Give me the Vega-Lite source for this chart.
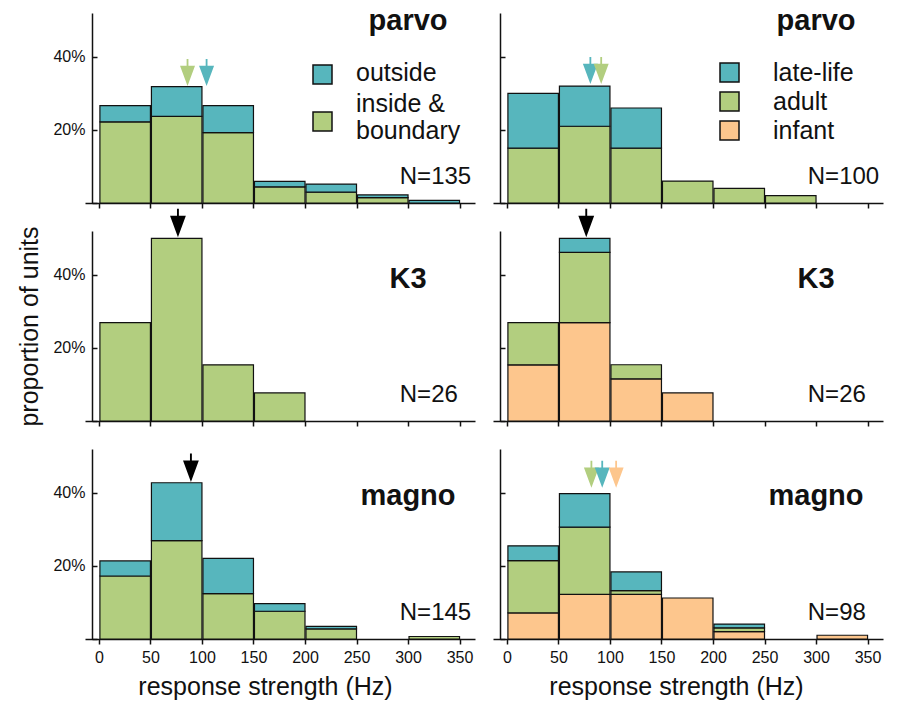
{
  "$schema": "https://vega.github.io/schema/vega-lite/v6.json",
  "padding": {"left": 17, "top": 6, "right": 5, "bottom": 4},
  "config": {
    "font": "Liberation Sans",
    "view": {"stroke": null},
    "axis": {"domainColor": "#111", "domainWidth": 1.5, "tickColor": "#111", "tickWidth": 1.5, "labelColor": "#111", "titleColor": "#111", "titleFontWeight": "normal", "grid": false},
    "text": {"color": "#111"}
  },
  "datasets": {
    "groups": [
      {"group": "inside & boundary", "rank": 1},
      {"group": "outside", "rank": 2},
      {"group": "infant", "rank": 1},
      {"group": "adult", "rank": 2},
      {"group": "late-life", "rank": 3}
    ],
    "bars": [
      {"pathway": "parvo", "split": "location", "start": 0, "end": 50, "group": "inside & boundary", "p": 0.2222},
      {"pathway": "parvo", "split": "location", "start": 0, "end": 50, "group": "outside", "p": 0.0444},
      {"pathway": "parvo", "split": "location", "start": 50, "end": 100, "group": "inside & boundary", "p": 0.2370},
      {"pathway": "parvo", "split": "location", "start": 50, "end": 100, "group": "outside", "p": 0.0815},
      {"pathway": "parvo", "split": "location", "start": 100, "end": 150, "group": "inside & boundary", "p": 0.1926},
      {"pathway": "parvo", "split": "location", "start": 100, "end": 150, "group": "outside", "p": 0.0741},
      {"pathway": "parvo", "split": "location", "start": 150, "end": 200, "group": "inside & boundary", "p": 0.0444},
      {"pathway": "parvo", "split": "location", "start": 150, "end": 200, "group": "outside", "p": 0.0148},
      {"pathway": "parvo", "split": "location", "start": 200, "end": 250, "group": "inside & boundary", "p": 0.0296},
      {"pathway": "parvo", "split": "location", "start": 200, "end": 250, "group": "outside", "p": 0.0222},
      {"pathway": "parvo", "split": "location", "start": 250, "end": 300, "group": "inside & boundary", "p": 0.0148},
      {"pathway": "parvo", "split": "location", "start": 250, "end": 300, "group": "outside", "p": 0.0074},
      {"pathway": "parvo", "split": "location", "start": 300, "end": 350, "group": "outside", "p": 0.0074},

      {"pathway": "parvo", "split": "age", "start": 0, "end": 50, "group": "adult", "p": 0.15},
      {"pathway": "parvo", "split": "age", "start": 0, "end": 50, "group": "late-life", "p": 0.15},
      {"pathway": "parvo", "split": "age", "start": 50, "end": 100, "group": "adult", "p": 0.21},
      {"pathway": "parvo", "split": "age", "start": 50, "end": 100, "group": "late-life", "p": 0.11},
      {"pathway": "parvo", "split": "age", "start": 100, "end": 150, "group": "adult", "p": 0.15},
      {"pathway": "parvo", "split": "age", "start": 100, "end": 150, "group": "late-life", "p": 0.11},
      {"pathway": "parvo", "split": "age", "start": 150, "end": 200, "group": "adult", "p": 0.06},
      {"pathway": "parvo", "split": "age", "start": 200, "end": 250, "group": "adult", "p": 0.04},
      {"pathway": "parvo", "split": "age", "start": 250, "end": 300, "group": "adult", "p": 0.02},

      {"pathway": "K3", "split": "location", "start": 0, "end": 50, "group": "inside & boundary", "p": 0.2692},
      {"pathway": "K3", "split": "location", "start": 50, "end": 100, "group": "inside & boundary", "p": 0.5},
      {"pathway": "K3", "split": "location", "start": 100, "end": 150, "group": "inside & boundary", "p": 0.1538},
      {"pathway": "K3", "split": "location", "start": 150, "end": 200, "group": "inside & boundary", "p": 0.0769},

      {"pathway": "K3", "split": "age", "start": 0, "end": 50, "group": "infant", "p": 0.1538},
      {"pathway": "K3", "split": "age", "start": 0, "end": 50, "group": "adult", "p": 0.1154},
      {"pathway": "K3", "split": "age", "start": 50, "end": 100, "group": "infant", "p": 0.2692},
      {"pathway": "K3", "split": "age", "start": 50, "end": 100, "group": "adult", "p": 0.1923},
      {"pathway": "K3", "split": "age", "start": 50, "end": 100, "group": "late-life", "p": 0.0385},
      {"pathway": "K3", "split": "age", "start": 100, "end": 150, "group": "infant", "p": 0.1154},
      {"pathway": "K3", "split": "age", "start": 100, "end": 150, "group": "adult", "p": 0.0385},
      {"pathway": "K3", "split": "age", "start": 150, "end": 200, "group": "infant", "p": 0.0769},

      {"pathway": "magno", "split": "location", "start": 0, "end": 50, "group": "inside & boundary", "p": 0.1724},
      {"pathway": "magno", "split": "location", "start": 0, "end": 50, "group": "outside", "p": 0.0414},
      {"pathway": "magno", "split": "location", "start": 50, "end": 100, "group": "inside & boundary", "p": 0.2690},
      {"pathway": "magno", "split": "location", "start": 50, "end": 100, "group": "outside", "p": 0.1586},
      {"pathway": "magno", "split": "location", "start": 100, "end": 150, "group": "inside & boundary", "p": 0.1241},
      {"pathway": "magno", "split": "location", "start": 100, "end": 150, "group": "outside", "p": 0.0966},
      {"pathway": "magno", "split": "location", "start": 150, "end": 200, "group": "inside & boundary", "p": 0.0759},
      {"pathway": "magno", "split": "location", "start": 150, "end": 200, "group": "outside", "p": 0.0207},
      {"pathway": "magno", "split": "location", "start": 200, "end": 250, "group": "inside & boundary", "p": 0.0276},
      {"pathway": "magno", "split": "location", "start": 200, "end": 250, "group": "outside", "p": 0.0069},
      {"pathway": "magno", "split": "location", "start": 300, "end": 350, "group": "inside & boundary", "p": 0.0069},

      {"pathway": "magno", "split": "age", "start": 0, "end": 50, "group": "infant", "p": 0.0714},
      {"pathway": "magno", "split": "age", "start": 0, "end": 50, "group": "adult", "p": 0.1429},
      {"pathway": "magno", "split": "age", "start": 0, "end": 50, "group": "late-life", "p": 0.0408},
      {"pathway": "magno", "split": "age", "start": 50, "end": 100, "group": "infant", "p": 0.1224},
      {"pathway": "magno", "split": "age", "start": 50, "end": 100, "group": "adult", "p": 0.1837},
      {"pathway": "magno", "split": "age", "start": 50, "end": 100, "group": "late-life", "p": 0.0918},
      {"pathway": "magno", "split": "age", "start": 100, "end": 150, "group": "infant", "p": 0.1224},
      {"pathway": "magno", "split": "age", "start": 100, "end": 150, "group": "adult", "p": 0.0102},
      {"pathway": "magno", "split": "age", "start": 100, "end": 150, "group": "late-life", "p": 0.0510},
      {"pathway": "magno", "split": "age", "start": 150, "end": 200, "group": "infant", "p": 0.1122},
      {"pathway": "magno", "split": "age", "start": 200, "end": 250, "group": "infant", "p": 0.0204},
      {"pathway": "magno", "split": "age", "start": 200, "end": 250, "group": "adult", "p": 0.0102},
      {"pathway": "magno", "split": "age", "start": 200, "end": 250, "group": "late-life", "p": 0.0102},
      {"pathway": "magno", "split": "age", "start": 300, "end": 350, "group": "infant", "p": 0.0102}
    ],
    "medians": [
      {"pathway": "parvo", "split": "location", "group": "inside & boundary", "median": 86},
      {"pathway": "parvo", "split": "location", "group": "outside", "median": 104.5},
      {"pathway": "parvo", "split": "age", "group": "late-life", "median": 81},
      {"pathway": "parvo", "split": "age", "group": "adult", "median": 91.5},
      {"pathway": "K3", "split": "location", "group": "all units", "median": 76.7},
      {"pathway": "K3", "split": "age", "group": "all units", "median": 77},
      {"pathway": "magno", "split": "location", "group": "all units", "median": 89.3},
      {"pathway": "magno", "split": "age", "group": "adult", "median": 82},
      {"pathway": "magno", "split": "age", "group": "late-life", "median": 92.5},
      {"pathway": "magno", "split": "age", "group": "infant", "median": 106}
    ]
  },
  "concat": [
    {
      "width": 390, "height": 190,
      "layer": [
        {
          "data": {"name": "bars"},
          "transform": [
            {"filter": "datum.pathway == 'parvo' && datum.split == 'location'"},
            {"lookup": "group", "from": {"data": {"name": "groups"}, "key": "group", "fields": ["rank"]}}
          ],
          "mark": {"type": "bar", "stroke": "#111", "strokeWidth": 1.2},
          "encoding": {
            "x": {"field": "start", "type": "quantitative", "bin": {"binned": true, "step": 50}, "scale": {"domain": [-13.5, 365], "nice": false, "zero": false},
                  "axis": {"values": [0, 50, 100, 150, 200, 250, 300, 350], "labels": false, "tickSize": 5, "title": null}},
            "x2": {"field": "end"},
            "y": {"field": "p", "type": "quantitative", "stack": "zero", "scale": {"domain": [0, 0.52], "nice": false},
                  "axis": {"values": [0, 0.1, 0.2, 0.3, 0.4, 0.5], "offset": -7, "tickSize": -5, "labelFontSize": 16, "labelPadding": 12,
                           "labelExpr": "datum.value == 0.2 || datum.value == 0.4 ? format(datum.value, '.0%') : ''", "title": null}},
            "order": {"field": "rank", "type": "quantitative", "sort": "ascending"},
            "color": {"field": "group", "type": "nominal",
                      "scale": {"domain": ["outside", "inside & boundary"], "range": ["#57b6bd", "#b2ce7f"]},
                      "legend": {"orient": "none", "legendX": 225, "legendY": 49, "title": null, "padding": 0,
                                 "symbolType": "square", "symbolSize": 361, "symbolStrokeColor": "#111", "symbolStrokeWidth": 1.5, "symbolOpacity": 1,
                                 "labelFontSize": 25, "labelColor": "#111", "labelOffset": 21, "labelLimit": 300, "rowPadding": 4,
                                 "labelExpr": "datum.label == 'inside & boundary' ? ['inside &', '\u00a0boundary'] : datum.label",
                                 "encode": {"labels": {"update": {"dy": {"signal": "datum.value == 'inside & boundary' ? -18 : -2"}}}}}}
          }
        },
        {
          "data": {"name": "medians"},
          "transform": [{"filter": "datum.pathway == 'parvo' && datum.split == 'location'"}],
          "mark": {"type": "point", "shape": "M0,0L-0.5,-1.35L-0.06,-1.35L-0.06,-1.8L0.06,-1.8L0.06,-1.35L0.5,-1.35Z", "size": 900, "filled": true, "opacity": 1, "strokeWidth": 0},
          "encoding": {
            "x": {"field": "median", "type": "quantitative"},
            "y": {"datum": 0.32},
            "color": {"field": "group", "type": "nominal", "scale": {"domain": ["outside", "inside & boundary"], "range": ["#57b6bd", "#b2ce7f"]}, "legend": null}
          }
        },
        {
          "data": {"values": [{}]},
          "mark": {"type": "text", "text": "parvo", "fontSize": 29, "fontWeight": "bold", "align": "center", "baseline": "alphabetic"},
          "encoding": {"x": {"datum": 300}, "y": {"datum": 0.474}}
        },
        {
          "data": {"values": [{}]},
          "mark": {"type": "text", "text": "N=135", "fontSize": 24, "align": "left", "baseline": "alphabetic"},
          "encoding": {"x": {"datum": 292}, "y": {"datum": 0.052}}
        }
      ]
    },
    {
      "width": 390, "height": 190,
      "layer": [
        {
          "data": {"name": "bars"},
          "transform": [
            {"filter": "datum.pathway == 'parvo' && datum.split == 'age'"},
            {"lookup": "group", "from": {"data": {"name": "groups"}, "key": "group", "fields": ["rank"]}}
          ],
          "mark": {"type": "bar", "stroke": "#111", "strokeWidth": 1.2},
          "encoding": {
            "x": {"field": "start", "type": "quantitative", "bin": {"binned": true, "step": 50}, "scale": {"domain": [-13.5, 365], "nice": false, "zero": false},
                  "axis": {"values": [0, 50, 100, 150, 200, 250, 300, 350], "labels": false, "tickSize": 5, "title": null}},
            "x2": {"field": "end"},
            "y": {"field": "p", "type": "quantitative", "stack": "zero", "scale": {"domain": [0, 0.52], "nice": false},
                  "axis": {"values": [0, 0.1, 0.2, 0.3, 0.4, 0.5], "offset": -7, "tickSize": -5, "labels": false, "title": null}},
            "order": {"field": "rank", "type": "quantitative", "sort": "ascending"},
            "color": {"field": "group", "type": "nominal",
                      "scale": {"domain": ["late-life", "adult", "infant"], "range": ["#57b6bd", "#b2ce7f", "#fdc68d"]},
                      "legend": {"orient": "none", "legendX": 224, "legendY": 47, "title": null, "padding": 0,
                                 "symbolType": "square", "symbolSize": 361, "symbolStrokeColor": "#111", "symbolStrokeWidth": 1.5, "symbolOpacity": 1,
                                 "labelFontSize": 25, "labelColor": "#111", "labelOffset": 31, "labelLimit": 300, "rowPadding": 3}}
          }
        },
        {
          "data": {"name": "medians"},
          "transform": [{"filter": "datum.pathway == 'parvo' && datum.split == 'age'"}],
          "mark": {"type": "point", "shape": "M0,0L-0.5,-1.35L-0.06,-1.35L-0.06,-1.8L0.06,-1.8L0.06,-1.35L0.5,-1.35Z", "size": 900, "filled": true, "opacity": 1, "strokeWidth": 0},
          "encoding": {
            "x": {"field": "median", "type": "quantitative"},
            "y": {"datum": 0.326},
            "color": {"field": "group", "type": "nominal", "scale": {"domain": ["late-life", "adult", "infant"], "range": ["#57b6bd", "#b2ce7f", "#fdc68d"]}, "legend": null}
          }
        },
        {
          "data": {"values": [{}]},
          "mark": {"type": "text", "text": "parvo", "fontSize": 29, "fontWeight": "bold", "align": "center", "baseline": "alphabetic"},
          "encoding": {"x": {"datum": 300}, "y": {"datum": 0.474}}
        },
        {
          "data": {"values": [{}]},
          "mark": {"type": "text", "text": "N=100", "fontSize": 24, "align": "left", "baseline": "alphabetic"},
          "encoding": {"x": {"datum": 292}, "y": {"datum": 0.052}}
        }
      ]
    },
    {
      "width": 390, "height": 190,
      "layer": [
        {
          "data": {"name": "bars"},
          "transform": [
            {"filter": "datum.pathway == 'K3' && datum.split == 'location'"},
            {"lookup": "group", "from": {"data": {"name": "groups"}, "key": "group", "fields": ["rank"]}}
          ],
          "mark": {"type": "bar", "stroke": "#111", "strokeWidth": 1.2},
          "encoding": {
            "x": {"field": "start", "type": "quantitative", "bin": {"binned": true, "step": 50}, "scale": {"domain": [-13.5, 365], "nice": false, "zero": false},
                  "axis": {"values": [0, 50, 100, 150, 200, 250, 300, 350], "labels": false, "tickSize": 5, "title": null}},
            "x2": {"field": "end"},
            "y": {"field": "p", "type": "quantitative", "stack": "zero", "scale": {"domain": [0, 0.52], "nice": false},
                  "axis": {"values": [0, 0.1, 0.2, 0.3, 0.4, 0.5], "offset": -7, "tickSize": -5, "labelFontSize": 16, "labelPadding": 12,
                           "labelExpr": "datum.value == 0.2 || datum.value == 0.4 ? format(datum.value, '.0%') : ''",
                           "title": "proportion of units", "titleFontSize": 25, "titlePadding": 10}},
            "order": {"field": "rank", "type": "quantitative", "sort": "ascending"},
            "color": {"field": "group", "type": "nominal",
                      "scale": {"domain": ["outside", "inside & boundary"], "range": ["#57b6bd", "#b2ce7f"]}, "legend": null}
          }
        },
        {
          "data": {"name": "medians"},
          "transform": [{"filter": "datum.pathway == 'K3' && datum.split == 'location'"}],
          "mark": {"type": "point", "shape": "M0,0L-0.5,-1.35L-0.06,-1.35L-0.06,-1.8L0.06,-1.8L0.06,-1.35L0.5,-1.35Z", "size": 1000, "filled": true, "opacity": 1, "strokeWidth": 0, "color": "black"},
          "encoding": {"x": {"field": "median", "type": "quantitative"}, "y": {"datum": 0.503}}
        },
        {
          "data": {"values": [{}]},
          "mark": {"type": "text", "text": "K3", "fontSize": 29, "fontWeight": "bold", "align": "center", "baseline": "alphabetic"},
          "encoding": {"x": {"datum": 300}, "y": {"datum": 0.364}}
        },
        {
          "data": {"values": [{}]},
          "mark": {"type": "text", "text": "N=26", "fontSize": 24, "align": "left", "baseline": "alphabetic"},
          "encoding": {"x": {"datum": 292}, "y": {"datum": 0.052}}
        }
      ]
    },
    {
      "width": 390, "height": 190,
      "layer": [
        {
          "data": {"name": "bars"},
          "transform": [
            {"filter": "datum.pathway == 'K3' && datum.split == 'age'"},
            {"lookup": "group", "from": {"data": {"name": "groups"}, "key": "group", "fields": ["rank"]}}
          ],
          "mark": {"type": "bar", "stroke": "#111", "strokeWidth": 1.2},
          "encoding": {
            "x": {"field": "start", "type": "quantitative", "bin": {"binned": true, "step": 50}, "scale": {"domain": [-13.5, 365], "nice": false, "zero": false},
                  "axis": {"values": [0, 50, 100, 150, 200, 250, 300, 350], "labels": false, "tickSize": 5, "title": null}},
            "x2": {"field": "end"},
            "y": {"field": "p", "type": "quantitative", "stack": "zero", "scale": {"domain": [0, 0.52], "nice": false},
                  "axis": {"values": [0, 0.1, 0.2, 0.3, 0.4, 0.5], "offset": -7, "tickSize": -5, "labels": false, "title": null}},
            "order": {"field": "rank", "type": "quantitative", "sort": "ascending"},
            "color": {"field": "group", "type": "nominal",
                      "scale": {"domain": ["late-life", "adult", "infant"], "range": ["#57b6bd", "#b2ce7f", "#fdc68d"]}, "legend": null}
          }
        },
        {
          "data": {"name": "medians"},
          "transform": [{"filter": "datum.pathway == 'K3' && datum.split == 'age'"}],
          "mark": {"type": "point", "shape": "M0,0L-0.5,-1.35L-0.06,-1.35L-0.06,-1.8L0.06,-1.8L0.06,-1.35L0.5,-1.35Z", "size": 1000, "filled": true, "opacity": 1, "strokeWidth": 0, "color": "black"},
          "encoding": {"x": {"field": "median", "type": "quantitative"}, "y": {"datum": 0.503}}
        },
        {
          "data": {"values": [{}]},
          "mark": {"type": "text", "text": "K3", "fontSize": 29, "fontWeight": "bold", "align": "center", "baseline": "alphabetic"},
          "encoding": {"x": {"datum": 300}, "y": {"datum": 0.364}}
        },
        {
          "data": {"values": [{}]},
          "mark": {"type": "text", "text": "N=26", "fontSize": 24, "align": "left", "baseline": "alphabetic"},
          "encoding": {"x": {"datum": 292}, "y": {"datum": 0.052}}
        }
      ]
    },
    {
      "width": 390, "height": 190,
      "layer": [
        {
          "data": {"name": "bars"},
          "transform": [
            {"filter": "datum.pathway == 'magno' && datum.split == 'location'"},
            {"lookup": "group", "from": {"data": {"name": "groups"}, "key": "group", "fields": ["rank"]}}
          ],
          "mark": {"type": "bar", "stroke": "#111", "strokeWidth": 1.2},
          "encoding": {
            "x": {"field": "start", "type": "quantitative", "bin": {"binned": true, "step": 50}, "scale": {"domain": [-13.5, 365], "nice": false, "zero": false},
                  "axis": {"values": [0, 50, 100, 150, 200, 250, 300, 350], "format": "d", "labelFontSize": 16, "labelPadding": 5, "tickSize": 5,
                           "title": "response strength (Hz)", "titleFontSize": 25, "titleX": 180, "titlePadding": 9}},
            "x2": {"field": "end"},
            "y": {"field": "p", "type": "quantitative", "stack": "zero", "scale": {"domain": [0, 0.52], "nice": false},
                  "axis": {"values": [0, 0.1, 0.2, 0.3, 0.4, 0.5], "offset": -7, "tickSize": -5, "labelFontSize": 16, "labelPadding": 12,
                           "labelExpr": "datum.value == 0.2 || datum.value == 0.4 ? format(datum.value, '.0%') : ''", "title": null}},
            "order": {"field": "rank", "type": "quantitative", "sort": "ascending"},
            "color": {"field": "group", "type": "nominal",
                      "scale": {"domain": ["outside", "inside & boundary"], "range": ["#57b6bd", "#b2ce7f"]}, "legend": null}
          }
        },
        {
          "data": {"name": "medians"},
          "transform": [{"filter": "datum.pathway == 'magno' && datum.split == 'location'"}],
          "mark": {"type": "point", "shape": "M0,0L-0.5,-1.35L-0.06,-1.35L-0.06,-1.8L0.06,-1.8L0.06,-1.35L0.5,-1.35Z", "size": 1000, "filled": true, "opacity": 1, "strokeWidth": 0, "color": "black"},
          "encoding": {"x": {"field": "median", "type": "quantitative"}, "y": {"datum": 0.43}}
        },
        {
          "data": {"values": [{}]},
          "mark": {"type": "text", "text": "magno", "fontSize": 29, "fontWeight": "bold", "align": "center", "baseline": "alphabetic"},
          "encoding": {"x": {"datum": 300}, "y": {"datum": 0.367}}
        },
        {
          "data": {"values": [{}]},
          "mark": {"type": "text", "text": "N=145", "fontSize": 24, "align": "left", "baseline": "alphabetic"},
          "encoding": {"x": {"datum": 292}, "y": {"datum": 0.052}}
        }
      ]
    },
    {
      "width": 390, "height": 190,
      "layer": [
        {
          "data": {"name": "bars"},
          "transform": [
            {"filter": "datum.pathway == 'magno' && datum.split == 'age'"},
            {"lookup": "group", "from": {"data": {"name": "groups"}, "key": "group", "fields": ["rank"]}}
          ],
          "mark": {"type": "bar", "stroke": "#111", "strokeWidth": 1.2},
          "encoding": {
            "x": {"field": "start", "type": "quantitative", "bin": {"binned": true, "step": 50}, "scale": {"domain": [-13.5, 365], "nice": false, "zero": false},
                  "axis": {"values": [0, 50, 100, 150, 200, 250, 300, 350], "format": "d", "labelFontSize": 16, "labelPadding": 5, "tickSize": 5,
                           "title": "response strength (Hz)", "titleFontSize": 25, "titleX": 183, "titlePadding": 9}},
            "x2": {"field": "end"},
            "y": {"field": "p", "type": "quantitative", "stack": "zero", "scale": {"domain": [0, 0.52], "nice": false},
                  "axis": {"values": [0, 0.1, 0.2, 0.3, 0.4, 0.5], "offset": -7, "tickSize": -5, "labels": false, "title": null}},
            "order": {"field": "rank", "type": "quantitative", "sort": "ascending"},
            "color": {"field": "group", "type": "nominal",
                      "scale": {"domain": ["late-life", "adult", "infant"], "range": ["#57b6bd", "#b2ce7f", "#fdc68d"]}, "legend": null}
          }
        },
        {
          "data": {"name": "medians"},
          "transform": [{"filter": "datum.pathway == 'magno' && datum.split == 'age'"}],
          "mark": {"type": "point", "shape": "M0,0L-0.5,-1.35L-0.06,-1.35L-0.06,-1.8L0.06,-1.8L0.06,-1.35L0.5,-1.35Z", "size": 900, "filled": true, "opacity": 1, "strokeWidth": 0},
          "encoding": {
            "x": {"field": "median", "type": "quantitative"},
            "y": {"datum": 0.414},
            "color": {"field": "group", "type": "nominal", "scale": {"domain": ["late-life", "adult", "infant"], "range": ["#57b6bd", "#b2ce7f", "#fdc68d"]}, "legend": null}
          }
        },
        {
          "data": {"values": [{}]},
          "mark": {"type": "text", "text": "magno", "fontSize": 29, "fontWeight": "bold", "align": "center", "baseline": "alphabetic"},
          "encoding": {"x": {"datum": 300}, "y": {"datum": 0.367}}
        },
        {
          "data": {"values": [{}]},
          "mark": {"type": "text", "text": "N=98", "fontSize": 24, "align": "left", "baseline": "alphabetic"},
          "encoding": {"x": {"datum": 292}, "y": {"datum": 0.052}}
        }
      ]
    }
  ],
  "columns": 2,
  "spacing": {"row": 28, "column": 18},
  "bounds": "flush",
  "resolve": {"scale": {"color": "independent"}, "legend": {"color": "independent"}}
}
